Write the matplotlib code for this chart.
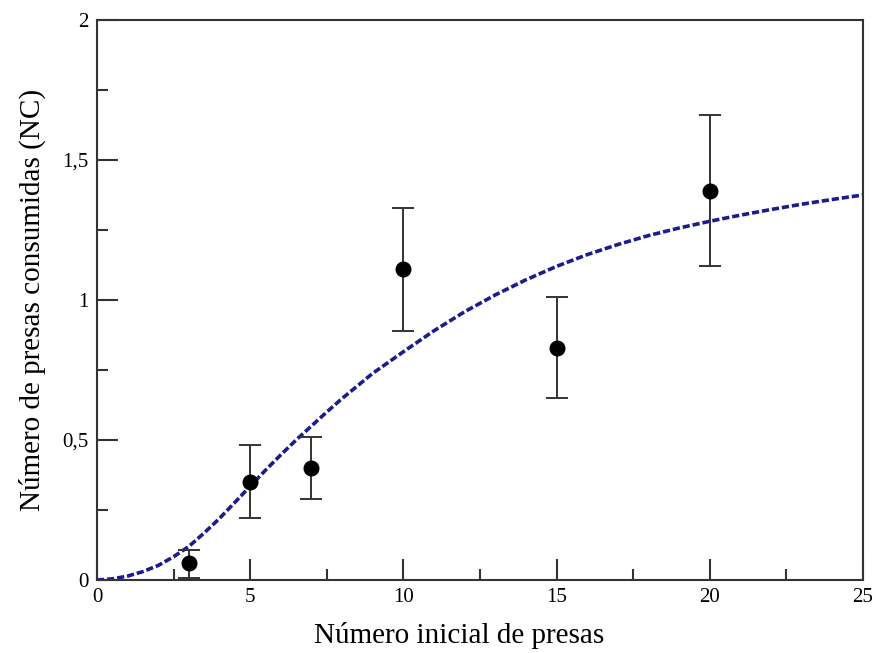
import numpy as np
import matplotlib
matplotlib.use("Agg")
import matplotlib.pyplot as plt
from matplotlib.ticker import MultipleLocator, FuncFormatter

# observed means with error bars
n_presas = [3, 5, 7, 10, 15, 20]
nc_media = [0.06, 0.35, 0.40, 1.11, 0.83, 1.39]
err_sup = [0.107, 0.482, 0.51, 1.33, 1.01, 1.66]
err_inf = [0.007, 0.22, 0.29, 0.89, 0.65, 1.12]

# fitted curve
curva_x = [0, 0.5, 1, 1.5, 2, 2.5, 3, 3.5, 4, 4.5, 5, 5.5, 6, 6.5, 7, 7.5, 8,
           9, 10, 11, 12, 13, 14, 15, 16, 17, 18, 19, 20, 21, 22, 23, 24, 25]
curva_y = [0.0, 0.004, 0.014, 0.03, 0.052, 0.083, 0.12, 0.168, 0.22, 0.277,
           0.335, 0.392, 0.447, 0.5, 0.55, 0.6, 0.648,
           0.738, 0.815, 0.89, 0.958, 1.018, 1.072, 1.12, 1.162, 1.198,
           1.23, 1.257, 1.281, 1.303, 1.323, 1.342, 1.359, 1.375]

plt.rcParams["font.family"] = ["Liberation Serif", "DejaVu Serif"]

fig = plt.figure(figsize=(8.76, 6.53), dpi=100)
ax = fig.add_axes([0.1107, 0.1118, 0.8743, 0.8576])

ax.plot(curva_x, curva_y, color="#1c1c8e", lw=2.6, ls=(0, (2.0, 0.8)), zorder=2)

yerr = [np.array(nc_media) - np.array(err_inf), np.array(err_sup) - np.array(nc_media)]
ax.errorbar(n_presas, nc_media, yerr=yerr, fmt="o", color="black", ms=10.5,
            ecolor="#333333", elinewidth=1.4, capsize=8, capthick=1.4, zorder=3)

ax.set_xlim(0, 25)
ax.set_ylim(0, 2)
ax.xaxis.set_major_locator(MultipleLocator(5))
ax.xaxis.set_minor_locator(MultipleLocator(2.5))
ax.yaxis.set_major_locator(MultipleLocator(0.5))
ax.yaxis.set_minor_locator(MultipleLocator(0.25))
ax.yaxis.set_major_formatter(FuncFormatter(lambda v, p: ("%g" % v).replace(".", ",")))

ax.tick_params(which="major", direction="in", length=15, width=1.5, color="#333333",
               labelsize=15, pad=6)
ax.tick_params(which="minor", direction="in", length=8, width=1.5, color="#333333")
for s in ax.spines.values():
    s.set_color("#333333")
    s.set_linewidth(1.5)

ax.set_xlabel("Número inicial de presas", fontsize=21, labelpad=10)
ax.xaxis.set_label_coords(0.473, -0.075)
ax.set_ylabel("Número de presas consumidas (NC)", fontsize=21, labelpad=12)

fig.savefig("out.png", dpi=100)
